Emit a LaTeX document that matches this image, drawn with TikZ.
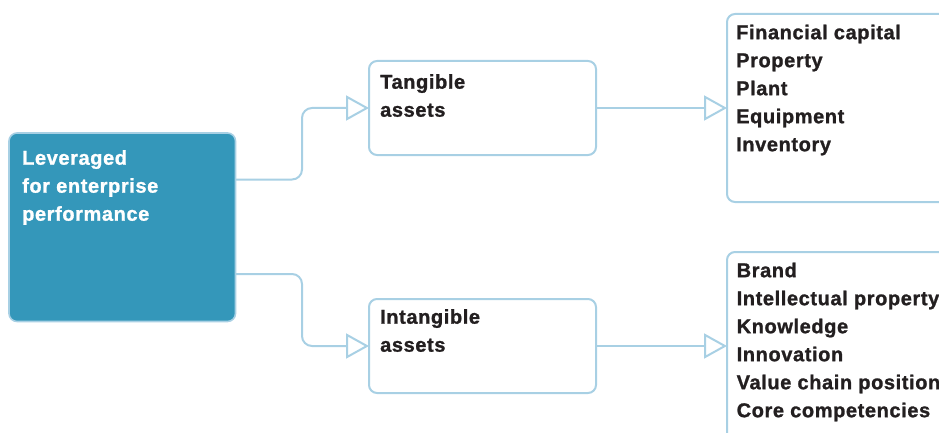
\documentclass[tikz,border=0pt]{standalone}
\usepackage{fontspec}
\setmainfont{Liberation Sans}[LetterSpace=3, BoldFeatures={FakeBold=1.2}]
\usetikzlibrary{arrows.meta}
\definecolor{teal}{RGB}{52,151,186}
\definecolor{edge}{RGB}{168,208,228}
\definecolor{ink}{RGB}{35,31,32}
\begin{document}
\begin{tikzpicture}[x=1pt,y=-1pt,
  box/.style={draw=edge, line width=2pt, rounded corners=8pt, fill=white, inner sep=0pt, outer sep=0pt, anchor=north west},
  mainbox/.style={box, fill=teal, line width=1.6pt},
  txt/.style={inner sep=0pt, anchor=north west, align=left, text=ink, font=\fontsize{20}{28}\selectfont\bfseries},
  conn/.style={draw=edge, line width=2pt, rounded corners=10pt, -{Triangle[open, length=23pt, width=25pt, fill=white]}}]
\useasboundingbox (0,0) rectangle (939,433);
\clip (0,0) rectangle (939,433);
% boxes
\node[mainbox, minimum width=226.5pt, minimum height=188.5pt] (main) at (9,133) {};
\node[box, minimum width=227pt, minimum height=94pt] (tang) at (369,61) {};
\node[box, minimum width=227pt, minimum height=94pt] (intang) at (369,299) {};
\node[box, minimum width=280pt, minimum height=188pt] (fin) at (727,14) {};
\node[box, minimum width=280pt, minimum height=260pt] (brand) at (727,252) {};
% texts
\node[txt, text=white] (maintxt) at (22,150) {Leveraged\\for enterprise\\performance};
\node[txt] (tangtxt) at (380,74) {Tangible\\assets};
\node[txt] (intangtxt) at (380,309) {Intangible\\assets};
\node[txt] (fintxt) at (736,24.5) {Financial capital\\Property\\Plant\\Equipment\\Inventory};
\node[txt] (brandtxt) at (736.5,262.5) {Brand\\Intellectual property\\Knowledge\\Innovation\\Value chain position\\Core competencies};
% connectors
\draw[conn] ([yshift=-46.5pt]main.north east) -| ([xshift=-67pt]tang.west) -- (tang.west);
\draw[conn] ([yshift=-141pt]main.north east) -| ([xshift=-67pt]intang.west) -- (intang.west);
\draw[conn] (tang.east) -- (tang.east -| fin.west);
\draw[conn] (intang.east) -- (intang.east -| brand.west);
\end{tikzpicture}
\end{document}
